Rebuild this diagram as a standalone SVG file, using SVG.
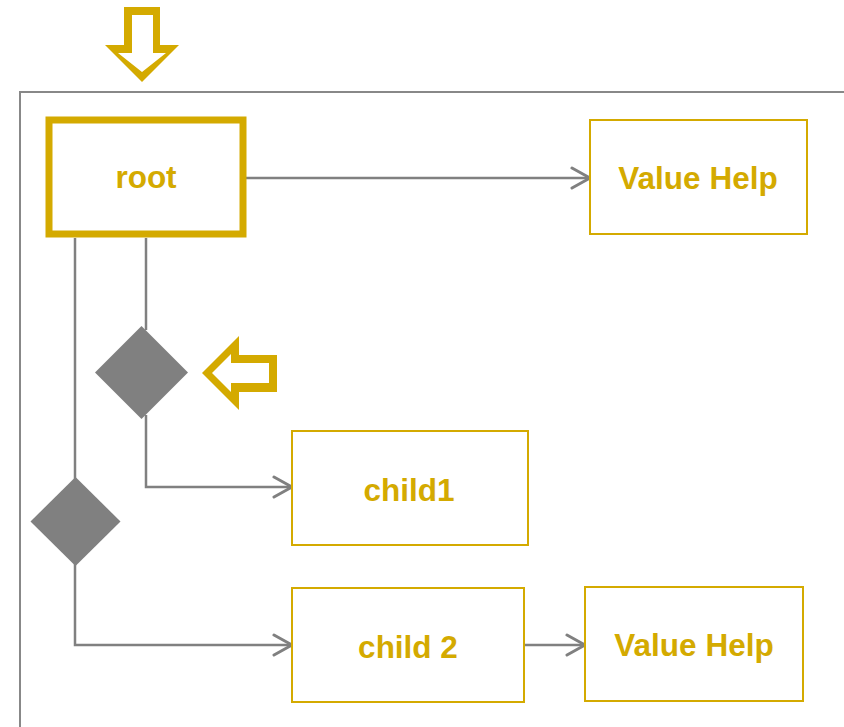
<svg xmlns="http://www.w3.org/2000/svg" width="844" height="727" viewBox="0 0 844 727">
<defs>
<style>
.box{fill:#fff;stroke:#D4AA00;stroke-width:2}
.lbl{font-family:"Liberation Sans",Arial,sans-serif;font-weight:bold;font-size:31.5px;fill:#D4AA00;text-anchor:middle}
.con{fill:none;stroke:#808080;stroke-width:2.5}
.dia{fill:#808080}
.hint{fill:#D4AA00;fill-rule:evenodd}
</style>
<marker id="ah" viewBox="0 0 22 24" refX="20" refY="12" markerWidth="22" markerHeight="24" markerUnits="userSpaceOnUse" orient="auto">
<path d="M2,2 L20,12 L2,22" fill="none" stroke="#808080" stroke-width="3" stroke-linecap="round" stroke-linejoin="round"/>
</marker>
</defs>
<rect width="844" height="727" fill="#fff"/>
<path d="M20,727 V92 H844" fill="none" stroke="#888" stroke-width="2"/>
<g id="connectors">
<path class="con" d="M246,178 H590" marker-end="url(#ah)"/>
<path class="con" d="M146,238 V330"/>
<path class="con" d="M146,415 V487 H292" marker-end="url(#ah)"/>
<path class="con" d="M75,238 V480"/>
<path class="con" d="M75,562 V645 H292" marker-end="url(#ah)"/>
<path class="con" d="M524,645 H585" marker-end="url(#ah)"/>
</g>
<g id="hint-down"><path class="hint" d="M124,7 H160 V45 H179 L142,82 L105,45 H124 Z M132,15 V53 H118 L142,72 L166,53 H153 V15 Z"/></g>
<g id="hint-left"><path class="hint" d="M202,373 L239,336 V355 H277 V392 H239 V410 Z M212,373 L231,392 V383 H269 V363 H231 V354 Z"/></g>
<g id="root">
<rect x="49" y="120" width="194" height="114" fill="#fff" stroke="#D4AA00" stroke-width="7"/>
<text class="lbl" x="146" y="188">root</text>
</g>
<g id="valuehelp1">
<rect class="box" x="590" y="120" width="217" height="114"/>
<text class="lbl" x="698" y="189">Value Help</text>
</g>
<g id="decision1"><path class="dia" d="M141.5,326 L188,372.5 L141.5,419 L95,372.5 Z"/></g>
<g id="decision2"><path class="dia" d="M75.5,477 L120.5,521.5 L75.5,566 L30.5,521.5 Z"/></g>
<g id="child1">
<rect class="box" x="292" y="431" width="236" height="114"/>
<text class="lbl" x="409" y="501">child1</text>
</g>
<g id="child2">
<rect class="box" x="292" y="588" width="232" height="114"/>
<text class="lbl" x="408" y="658">child 2</text>
</g>
<g id="valuehelp2">
<rect class="box" x="585" y="587" width="218" height="114"/>
<text class="lbl" x="694" y="656">Value Help</text>
</g>
</svg>
